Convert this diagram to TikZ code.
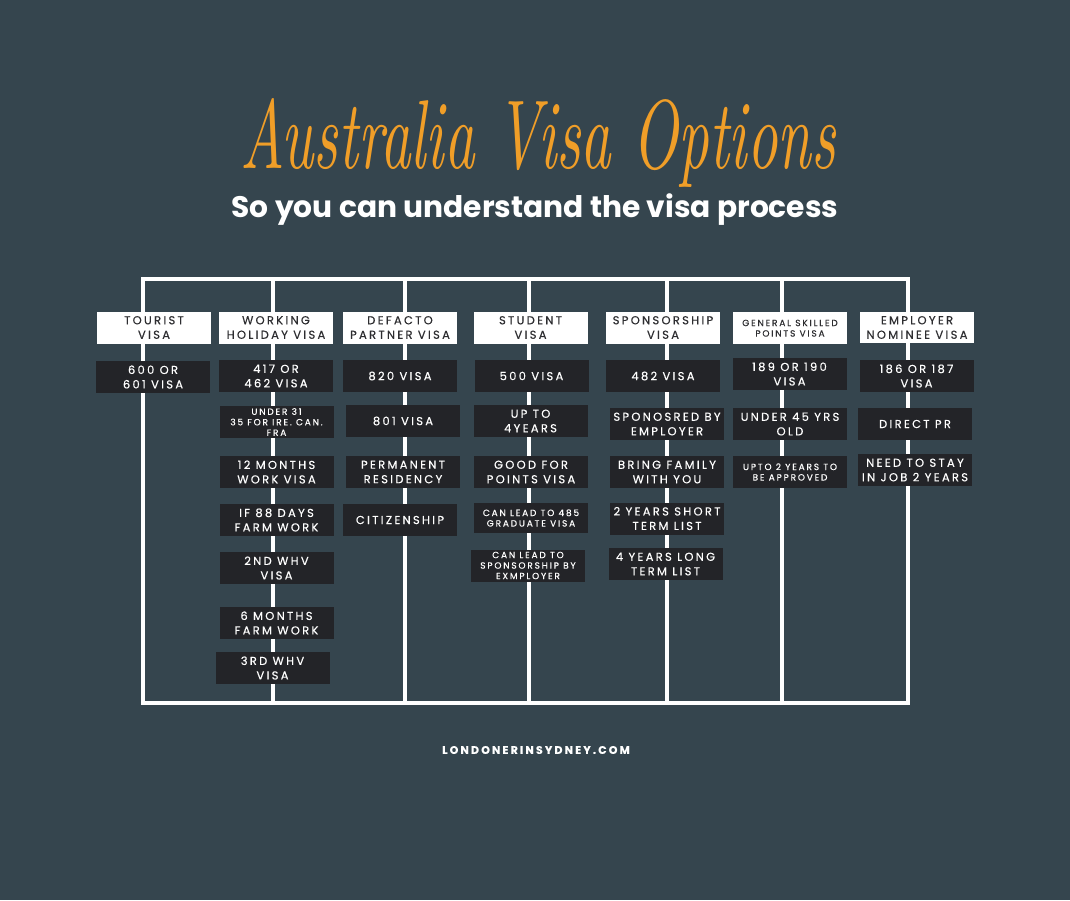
\documentclass[tikz,border=0pt]{standalone}
\usepackage{fontspec}
\newfontfamily\boxfont{Poppins}[LetterSpace=20, FakeBold=0.3]
\newfontfamily\subfont{Poppins}
\definecolor{slate}{RGB}{53,69,78}
\definecolor{boxdark}{RGB}{35,36,40}
\definecolor{titleorange}{RGB}{240,158,40}
\definecolor{hdrtext}{RGB}{45,45,48}
\tikzset{
  hdr/.style={fill=white, text=hdrtext, minimum width=114pt, minimum height=32pt,
    inner sep=0pt, align=center, font=\boxfont\fontsize{11.5}{14.5}\selectfont},
  info/.style={fill=boxdark, text=white, minimum width=114pt, minimum height=32pt,
    inner sep=0pt, align=center, font=\boxfont\fontsize{11.5}{14.5}\selectfont},
  tiny/.style={font=\boxfont\fontsize{9}{10.5}\selectfont},
  rail/.style={white, line width=4.5pt}
}
\begin{document}
\begin{tikzpicture}[x=1pt, y=-1pt]
		\useasboundingbox (0,0) rectangle (1070,900);
		\fill[slate] (0,0) rectangle (1070,900);

		% Title
		\node[text=titleorange, anchor=base, inner sep=0pt] (title) at (538,168)
			{\resizebox{595pt}{70pt}{\rmfamily\itshape Australia Visa Options}};
		\node[text=white, font=\subfont\bfseries\fontsize{29.7}{32}\selectfont] (subtitle) at (535,210)
			{So you can understand the visa process};

		% Frame and column rails
		\coordinate (tl) at (143,279);
		\coordinate (br) at (908,703);
		\draw[rail] (tl) rectangle (br);
		\foreach \x in {273,405,529,667,782}
			\draw[rail] (\x,279) -- (\x,703);

		% Column headers
		\node[hdr] (tourist) at (154,327.5) {TOURIST\\VISA};
		\node[hdr] (working) at (276,327.5) {WORKING\\HOLIDAY VISA};
		\node[hdr] (defacto) at (400,327.5) {DEFACTO\\PARTNER VISA};
		\node[hdr] (student) at (530.5,327.5) {STUDENT\\VISA};
		\node[hdr] (sponsor) at (663,327.5) {SPONSORSHIP\\VISA};
		\node[hdr, tiny, anchor=north, inner ysep=3pt] (general) at (790,312) {GENERAL SKILLED\\POINTS VISA};
		\node[hdr, minimum height=31pt] (employer) at (917,327.5) {EMPLOYER\\NOMINEE VISA};

		% Tourist
		\node[info] (tour1) at (153,377) {600 OR\\601 VISA};

		% Working holiday
		\node[info] (work1) at (276,376) {417 OR\\462 VISA};
		\node[info, tiny] (work2) at (276.5,422) {UNDER 31\\35 FOR IRE. CAN.\\FRA};
		\node[info] (work3) at (276.5,472) {12 MONTHS\\WORK VISA};
		\node[info] (work4) at (276.5,520) {IF 88 DAYS\\FARM WORK};
		\node[info] (work5) at (276.5,568) {2ND WHV\\VISA};
		\node[info] (work6) at (276.5,623) {6 MONTHS\\FARM WORK};
		\node[info] (work7) at (272.5,668) {3RD WHV\\VISA};

		% Defacto partner
		\node[info] (part1) at (400,376) {820 VISA};
		\node[info] (part2) at (403,421) {801 VISA};
		\node[info] (part3) at (403,472) {PERMANENT\\RESIDENCY};
		\node[info] (part4) at (400,520) {CITIZENSHIP};

		% Student
		\node[info] (stud1) at (531.5,376) {500 VISA};
		\node[info] (stud2) at (530.5,421) {UP TO\\4YEARS};
		\node[info] (stud3) at (531,472) {GOOD FOR\\POINTS VISA};
		\node[info, tiny, minimum height=30pt] (stud4) at (531,518) {CAN LEAD TO 485\\GRADUATE VISA};
		\node[info, tiny] (stud5) at (528,565.5) {CAN LEAD TO\\SPONSORSHIP BY\\EXMPLOYER};

		% Sponsorship
		\node[info] (spon1) at (663,376) {482 VISA};
		\node[info] (spon2) at (667,424) {SPONOSRED BY\\EMPLOYER};
		\node[info] (spon3) at (667,472) {BRING FAMILY\\WITH YOU};
		\node[info] (spon4) at (667,518.5) {2 YEARS SHORT\\TERM LIST};
		\node[info] (spon5) at (665.5,564) {4 YEARS LONG\\TERM LIST};

		% General skilled
		\node[info] (skil1) at (789.5,374) {189 OR 190\\VISA};
		\node[info] (skil2) at (790,424) {UNDER 45 YRS\\OLD};
		\node[info, tiny] (skil3) at (790,472) {UPTO 2 YEARS TO\\BE APPROVED};

		% Employer nominee
		\node[info] (empl1) at (916.5,376) {186 OR 187\\VISA};
		\node[info] (empl2) at (915,424) {DIRECT PR};
		\node[info] (empl3) at (915,470) {NEED TO STAY\\IN JOB 2 YEARS};

		% Footer
		\node[text=white, font=\boxfont\bfseries\fontsize{11}{13}\selectfont] (site) at (536,750) {LONDONERINSYDNEY.COM};
	\end{tikzpicture}
\end{document}
